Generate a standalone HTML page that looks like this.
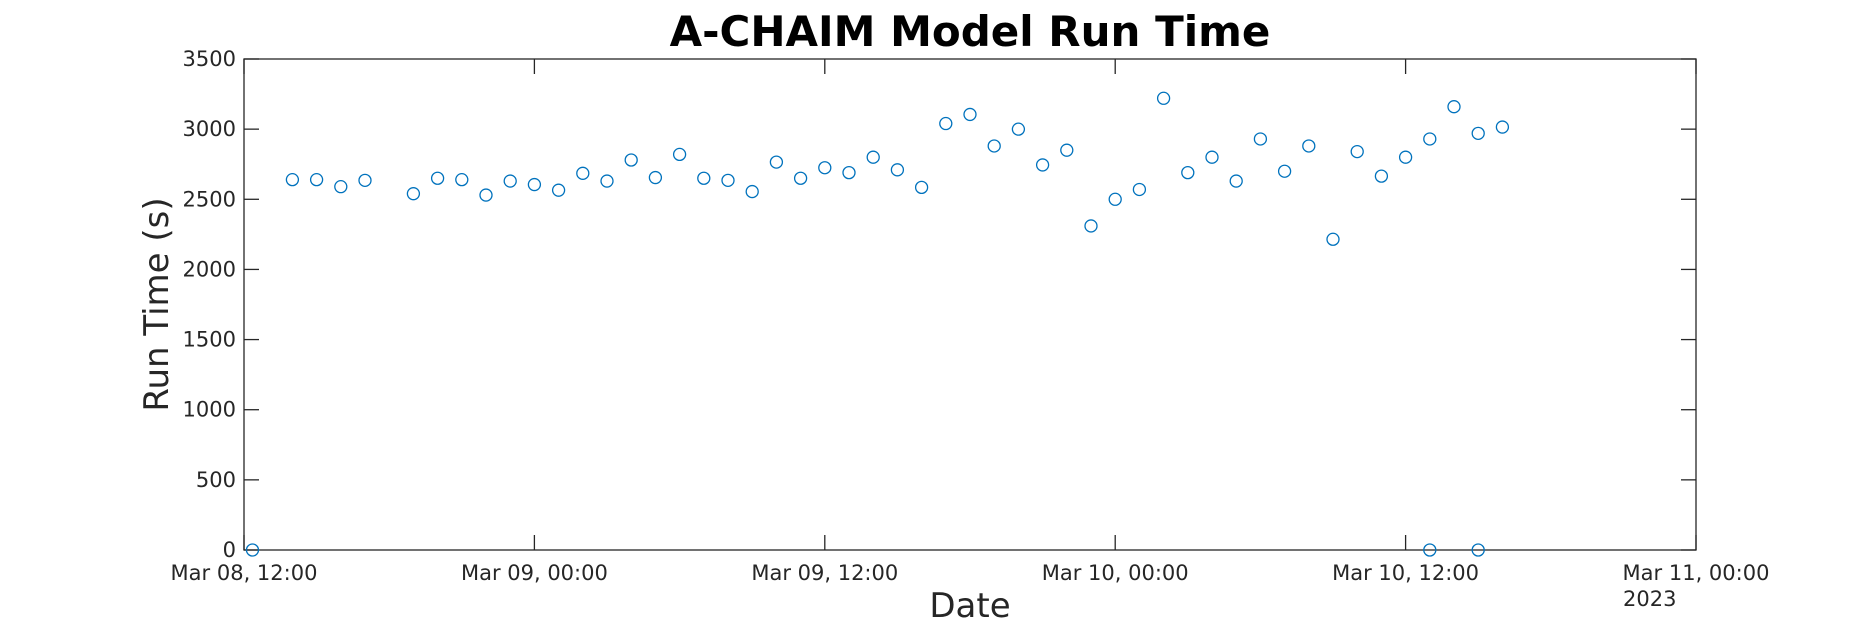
<!DOCTYPE html>
<html><head><meta charset="utf-8"><style>
html,body{margin:0;padding:0;background:#fff;}
svg{display:block;font-family:"DejaVu Sans","Liberation Sans",sans-serif;}
</style></head><body>
<svg id="chart" width="1875" height="625" viewBox="0 0 1875 625" xmlns="http://www.w3.org/2000/svg">
<rect width="1875" height="625" fill="#fff"/>
<text x="970" y="46" text-anchor="middle" font-size="42" font-weight="bold" fill="#000">A-CHAIM Model Run Time</text>
<g id="axes"></g>
<g id="marks"></g>
</svg>
<script>
const hours = [0.35,2,3,4,5,7,8,9,10,11,12,13,14,15,16,17,18,19,20,21,22,23,24,25,26,27,28,29,30,31,32,33,34,35,36,37,38,39,40,41,42,43,44,45,46,47,48,49,49,50,51,51,52];
const runTimes = [0,2640,2640,2590,2635,2540,2650,2640,2530,2630,2605,2565,2685,2630,2780,2655,2820,2650,2635,2555,2765,2650,2725,2690,2800,2710,2585,3040,3105,2880,3000,2745,2850,2310,2500,2570,3220,2690,2800,2630,2930,2700,2880,2215,2840,2665,2800,2930,0,3160,2970,0,3015];
const yTicks = [0,500,1000,1500,2000,2500,3000,3500];
const xTickHours = [0,12,24,36,48,60];
const xTickLabels = ["Mar 08, 12:00","Mar 09, 00:00","Mar 09, 12:00","Mar 10, 00:00","Mar 10, 12:00","Mar 11, 00:00"];

const L=244,R=1696,T=59,B=550;
const xs=h=>L+(h/60)*(R-L);
const ys=v=>B-(v/3500)*(B-T);
const NS="http://www.w3.org/2000/svg";
const axes=document.getElementById('axes'), marks=document.getElementById('marks');
function mk(tag,attrs,parent,txt){const e=document.createElementNS(NS,tag);for(const k in attrs)e.setAttribute(k,attrs[k]);if(txt!==undefined)e.textContent=txt;parent.appendChild(e);return e;}

const box=mk('rect',{x:L,y:T,width:R-L,height:B-T,fill:'none',stroke:'#262626','stroke-width':1.3},axes);



yTicks.forEach(v=>{
  const y=ys(v);
  const t1=mk('line',{x1:L,x2:L+15,y1:y,y2:y,stroke:'#262626','stroke-width':1.3},axes);
  
  
  const t2=mk('line',{x1:R-15,x2:R,y1:y,y2:y,stroke:'#262626','stroke-width':1.3},axes);
  
  
  const lb=mk('text',{x:L-8,y:y+7,'text-anchor':'end','font-size':21,fill:'#262626'},axes,String(v));
  
  
});
xTickHours.forEach((h,i)=>{
  const x=xs(h);
  const t1=mk('line',{x1:x,x2:x,y1:B,y2:B-15,stroke:'#262626','stroke-width':1.3},axes);
  
  
  const t2=mk('line',{x1:x,x2:x,y1:T,y2:T+15,stroke:'#262626','stroke-width':1.3},axes);
  
  
  const lb=mk('text',{x:x,y:580,'text-anchor':'middle','font-size':21,fill:'#262626'},axes,xTickLabels[i]);
  
  
});
const yr=mk('text',{x:xs(60)-73,y:606,'font-size':21,fill:'#262626'},axes,'2023');


const xl=mk('text',{x:(L+R)/2,y:617,'text-anchor':'middle','font-size':34,fill:'#262626'},axes,'Date');


const yl=mk('text',{x:0,y:0,transform:'translate(168,'+((T+B)/2)+') rotate(-90)','text-anchor':'middle','font-size':34,fill:'#262626'},axes,'Run Time (s)');



hours.forEach((h,i)=>{
  const c=mk('circle',{cx:xs(h),cy:ys(runTimes[i]),r:6,fill:'none',stroke:'#0072BD','stroke-width':1.3},marks);
  
  
});
</script>
</body></html>
